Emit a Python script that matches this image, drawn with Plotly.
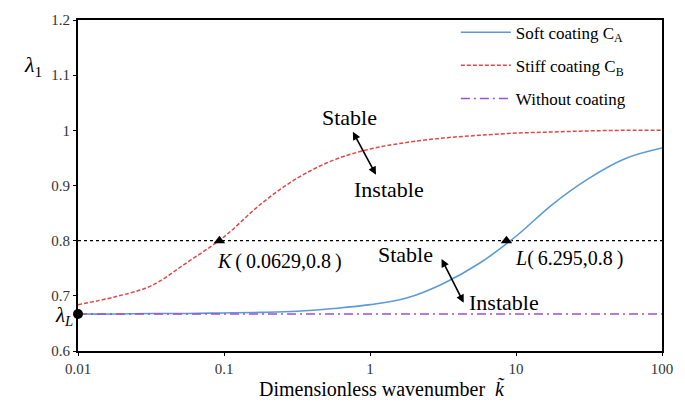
import plotly.graph_objects as go

# ---- data ----
k_values = [0.01, 0.0178, 0.0316, 0.0562, 0.1, 0.178, 0.316, 0.562, 1,
            1.78, 3.16, 5.62, 10, 17.8, 31.6, 56.2, 100]
soft_CA = [0.667, 0.667, 0.668, 0.668, 0.669, 0.670, 0.672, 0.677, 0.684,
           0.696, 0.722, 0.759, 0.808, 0.866, 0.913, 0.949, 0.968]
stiff_CB = [0.684, 0.698, 0.718, 0.761, 0.807, 0.866, 0.913, 0.946, 0.966,
            0.978, 0.986, 0.991, 0.995, 0.997, 0.999, 1.000, 1.000]
lambda_L = 0.667
critical_level = 0.8
point_K = (0.093, 0.8)
point_L = (8.6, 0.8)
x_ticks = [0.01, 0.1, 1, 10, 100]
x_tick_labels = ["0.01", "0.1", "1", "10", "100"]
y_ticks = [0.6, 0.7, 0.8, 0.9, 1.0, 1.1, 1.2]
y_tick_labels = ["0.6", "0.7", "0.8", "0.9", "1", "1.1", "1.2"]

SERIF = "Liberation Serif, Times New Roman, DejaVu Serif, serif"

fig = go.Figure()

# critical level dotted line
fig.add_trace(go.Scatter(x=[k_values[0], k_values[-1]], y=[critical_level, critical_level],
                         mode="lines", line=dict(color="black", width=1.3, dash="dot"),
                         showlegend=False, hoverinfo="skip"))

fig.add_trace(go.Scatter(x=k_values, y=soft_CA, mode="lines", name="Soft coating C<sub>A</sub>",
                         line=dict(color="#5B9BD5", width=1.6, shape="spline", smoothing=1.0),
                         legendgroup="a"))
fig.add_trace(go.Scatter(x=k_values, y=stiff_CB, mode="lines", name="Stiff coating C<sub>B</sub>",
                         line=dict(color="#E04848", width=1.5, dash="4px,2px", shape="spline",
                                   smoothing=1.0),
                         legendgroup="b"))
fig.add_trace(go.Scatter(x=[k_values[0], k_values[-1]], y=[lambda_L, lambda_L], mode="lines",
                         name="Without coating",
                         line=dict(color="#9A4FD8", width=1.6, dash="9px,4px,2px,4px"), legendgroup="c"))

# markers
fig.add_trace(go.Scatter(x=[point_K[0], point_L[0]], y=[point_K[1], point_L[1]], mode="markers",
                         marker=dict(symbol="triangle-up", size=10, color="black"),
                         showlegend=False, hoverinfo="skip"))
fig.add_trace(go.Scatter(x=[k_values[0]], y=[lambda_L], mode="markers",
                         marker=dict(symbol="circle", size=10, color="black"),
                         showlegend=False, hoverinfo="skip", cliponaxis=False))

ann = []
txt_font = dict(family=SERIF, size=22, color="black")
# labels (x in log10 units for log axis)
ann.append(dict(x=-0.143, y=1.024, xref="x", yref="y", text="Stable", showarrow=False, font=txt_font))
ann.append(dict(x=0.13, y=0.893, xref="x", yref="y", text="Instable", showarrow=False, font=txt_font))
ann.append(dict(x=0.246, y=0.775, xref="x", yref="y", text="Stable", showarrow=False, font=txt_font))
ann.append(dict(x=0.915, y=0.6875, xref="x", yref="y", text="Instable", showarrow=False, font=txt_font))
ann.append(dict(x=-1.06, y=0.762, xref="x", yref="y", xanchor="left",
                text="<i>K</i>\u2009(\u20090.0629,0.8\u2009)", showarrow=False,
                font=dict(family=SERIF, size=20, color="black")))
ann.append(dict(x=0.98, y=0.767, xref="x", yref="y", xanchor="left",
                text="<i>L</i>(\u20096.295,0.8\u2009)", showarrow=False,
                font=dict(family=SERIF, size=20, color="black")))
# double arrows
for (x0, y0, x1, y1) in [(-0.123, 1.0, 0.041, 0.9196), (0.485, 0.7696, 0.642, 0.6875)]:
    ann.append(dict(x=x1, y=y1, ax=x0, ay=y0, xref="x", yref="y", axref="x", ayref="y",
                    text="", showarrow=True, arrowhead=2, startarrowhead=2, arrowside="end+start",
                    arrowsize=1, arrowwidth=1.6, arrowcolor="black"))
# axis symbols and title
ann.append(dict(x=-0.096, y=0.91, xref="paper", yref="paper", text="<i>λ</i><sub>1</sub>",
                showarrow=False, font=dict(family=SERIF, size=22, color="black")))
ann.append(dict(x=-0.042, y=0.06, xref="paper", yref="paper", text="<i>λ<sub>L</sub></i>",
                showarrow=False, font=dict(family=SERIF, size=21, color="black")))
ann.append(dict(x=0.521, y=-0.112, xref="paper", yref="paper", yanchor="middle",
                text="Dimensionless wavenumber  <i>k̃</i>",
                showarrow=False, font=dict(family=SERIF, size=20, color="black")))

fig.update_layout(
    width=685, height=403,
    margin=dict(l=78, r=22, t=15, b=52),
    paper_bgcolor="white", plot_bgcolor="white",
    annotations=ann,
    legend=dict(x=0.647, y=1.016, xanchor="left", yanchor="top", itemwidth=50,
                bgcolor="rgba(0,0,0,0)", tracegroupgap=8, traceorder="grouped",
                font=dict(family=SERIF, size=17, color="black")),
)
fig.update_xaxes(type="log", range=[-2, 2], tickvals=x_ticks, ticktext=x_tick_labels,
                 showgrid=False, zeroline=False, showline=True, linecolor="black", linewidth=2,
                 mirror=True, ticks="outside", ticklen=3, tickcolor="black",
                 tickfont=dict(family=SERIF, size=15, color="#333333"))
fig.update_yaxes(range=[0.6, 1.2], tickvals=y_ticks, ticktext=y_tick_labels,
                 showgrid=False, zeroline=False, showline=True, linecolor="black", linewidth=2,
                 mirror=True, ticks="outside", ticklen=3, tickcolor="black",
                 tickfont=dict(family=SERIF, size=15, color="#333333"))

fig.write_html("out.html")
